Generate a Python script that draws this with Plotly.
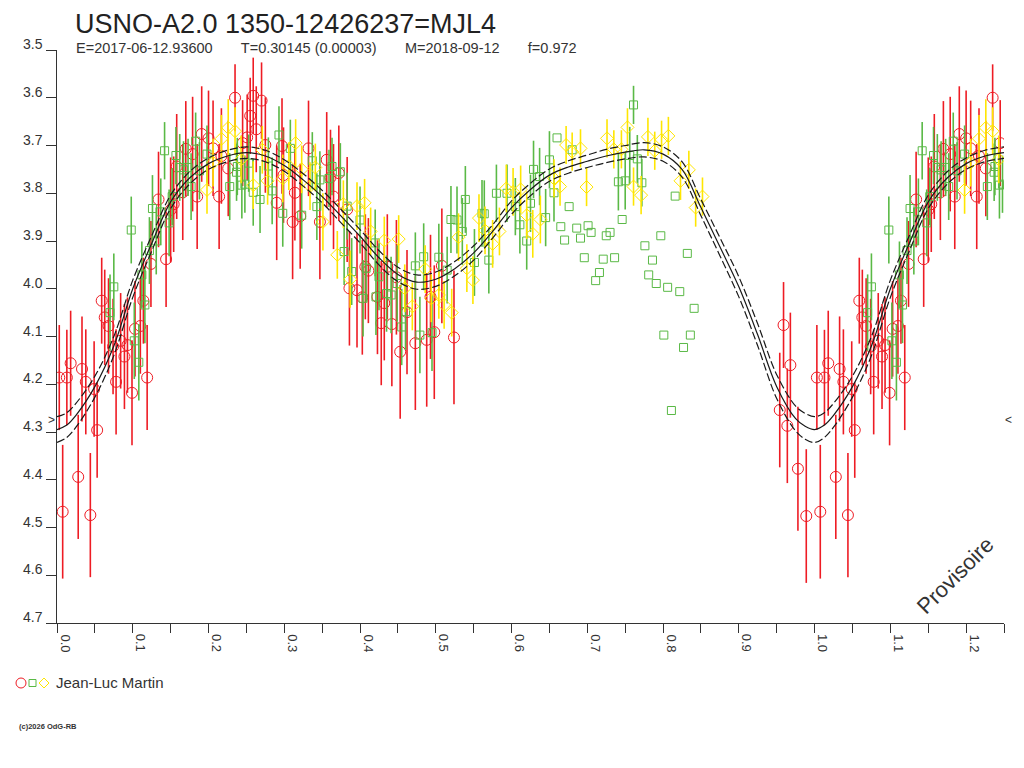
"""
Phase diagram of USNO-A2.0 1350-12426237 (MJL4): folded light curve with model.
"""
import plotly.graph_objects as go

# --- DATA (phase, magnitude, error) ---
RED_PHASE = [0.003, 0.0075, 0.013, 0.018, 0.028, 0.033, 0.038, 0.044, 0.049, 0.053,
             0.059, 0.063, 0.068, 0.074, 0.078, 0.084, 0.089, 0.093, 0.099, 0.103,
             0.110, 0.114, 0.119, 0.124, 0.134, 0.144, 0.150, 0.154, 0.158, 0.166,
             0.170, 0.179, 0.185, 0.191, 0.200, 0.206, 0.214, 0.217, 0.226, 0.235,
             0.245, 0.251, 0.255, 0.259, 0.263, 0.270, 0.275, 0.290, 0.297, 0.299,
             0.311, 0.314, 0.321, 0.332, 0.347, 0.356, 0.361, 0.365, 0.372, 0.383,
             0.386, 0.396, 0.403, 0.407, 0.411, 0.423, 0.428, 0.432, 0.436, 0.442,
             0.448, 0.453, 0.462, 0.473, 0.488, 0.493, 0.498, 0.508, 0.524,
             0.954, 0.959, 0.964, 0.968, 0.978, 0.989]
RED_MAG = [4.186, 4.467, 4.186, 4.156, 4.394, 4.168, 4.195, 4.474, 4.210, 4.296,
           4.025, 4.060, 4.078, 4.121, 4.195, 4.109, 4.142, 4.118, 4.218, 4.084,
           4.078, 4.025, 4.186, 3.948, 3.813, 3.938, 3.835, 3.823, 3.744, 3.798,
           3.707, 3.718, 3.807, 3.676, 3.685, 3.706, 3.807, 3.722, 3.748, 3.600,
           3.695, 3.683, 3.638, 3.596, 3.666, 3.606, 3.699, 3.820, 3.701, 3.762,
           3.860, 3.799, 3.848, 3.706, 3.860, 3.730, 3.767, 3.807, 3.758, 3.834,
           3.999, 4.003, 4.018, 3.954, 3.962, 4.017, 4.072, 4.030, 3.954, 4.074,
           3.976, 4.132, 4.049, 4.114, 4.107, 4.017, 4.091, 3.952, 4.102,
           4.254, 4.076, 4.287, 4.160, 4.377, 4.476]
RED_ERR = [0.11, 0.14, 0.10, 0.11, 0.13, 0.11, 0.11, 0.13, 0.10, 0.10,
           0.09, 0.10, 0.10, 0.10, 0.11, 0.10, 0.11, 0.10, 0.11, 0.10,
           0.10, 0.09, 0.11, 0.09, 0.10, 0.10, 0.11, 0.10, 0.11, 0.10,
           0.10, 0.12, 0.11, 0.10, 0.10, 0.10, 0.11, 0.10, 0.10, 0.07,
           0.09, 0.09, 0.08, 0.08, 0.09, 0.08, 0.10, 0.12, 0.10, 0.10,
           0.12, 0.10, 0.11, 0.10, 0.12, 0.10, 0.10, 0.11, 0.10, 0.11,
           0.12, 0.12, 0.12, 0.11, 0.11, 0.12, 0.13, 0.12, 0.11, 0.13,
           0.12, 0.14, 0.13, 0.14, 0.14, 0.13, 0.14, 0.12, 0.14,
           0.12, 0.09, 0.12, 0.11, 0.13, 0.14]

GREEN_PHASE = [0.070, 0.075, 0.098, 0.102, 0.108, 0.112, 0.116, 0.122, 0.126, 0.131,
               0.137, 0.142, 0.148, 0.152, 0.157, 0.162, 0.167, 0.173, 0.177, 0.183,
               0.188, 0.198, 0.228, 0.237, 0.238, 0.244, 0.248, 0.253, 0.259, 0.268,
               0.279, 0.284, 0.293, 0.298, 0.308, 0.323, 0.337, 0.343, 0.347, 0.359,
               0.363, 0.374, 0.379, 0.383, 0.389, 0.400, 0.404, 0.408, 0.420, 0.421,
               0.425, 0.435, 0.441, 0.449, 0.455, 0.460, 0.473, 0.479, 0.484, 0.495,
               0.504, 0.515, 0.520, 0.528, 0.535, 0.539, 0.551, 0.561, 0.564, 0.570,
               0.580, 0.594, 0.605, 0.611, 0.620, 0.625, 0.629, 0.637, 0.645, 0.650,
               0.656, 0.741, 0.750, 0.756, 0.761, 0.766, 0.772,
               0.660, 0.665, 0.670, 0.676, 0.680, 0.686, 0.691, 0.696, 0.701, 0.705,
               0.711, 0.716, 0.721, 0.725, 0.730, 0.736, 0.746, 0.776, 0.781, 0.786,
               0.791, 0.797, 0.801, 0.806, 0.811, 0.816, 0.822, 0.827, 0.832, 0.836,
               0.841]
GREEN_MAG = [4.050, 3.996, 3.877, 4.109, 4.154, 3.971, 4.034, 3.920, 3.832, 3.900,
             3.839, 3.711, 3.862, 3.807, 3.721, 3.746, 3.751, 3.746, 3.786, 3.691,
             3.753, 3.718, 3.786, 3.756, 3.744, 3.783, 3.781, 3.737, 3.798, 3.813,
             3.743, 3.795, 3.678, 3.842, 3.706, 3.846, 3.732, 3.828, 3.772, 3.769,
             3.744, 3.755, 3.922, 3.827, 3.964, 3.856, 4.020, 3.957, 3.904, 4.017,
             3.975, 4.010, 4.013, 3.989, 4.080, 4.048, 3.952, 4.097, 3.933, 4.092,
             3.934, 3.961, 3.855, 3.856, 3.880, 3.813, 3.945, 3.842, 3.843, 3.940,
             3.800, 3.800, 3.828, 3.866, 3.900, 3.821, 3.750, 3.765, 3.851, 3.730,
             3.799, 3.776, 3.774, 3.721, 3.615, 3.728, 3.778,
             3.684, 3.870, 3.898, 3.828, 3.709, 3.873, 3.894, 3.935, 3.868, 3.882,
             3.983, 3.966, 3.938, 3.889, 3.882, 3.935, 3.855, 3.910, 3.971, 3.940,
             3.989, 3.889, 4.097, 3.997, 4.255, 3.806, 4.006, 4.123, 3.926, 4.097,
             4.041]
GREEN_ERR = [0.08, 0.07, 0.07, 0.08, 0.08, 0.07, 0.08, 0.07, 0.07, 0.07,
             0.07, 0.06, 0.07, 0.06, 0.06, 0.07, 0.06, 0.06, 0.07, 0.06,
             0.06, 0.06, 0.07, 0.06, 0.06, 0.07, 0.06, 0.06, 0.07, 0.07,
             0.06, 0.07, 0.06, 0.07, 0.06, 0.07, 0.06, 0.07, 0.06, 0.06,
             0.06, 0.06, 0.07, 0.07, 0.07, 0.07, 0.08, 0.07, 0.07, 0.08,
             0.07, 0.08, 0.08, 0.08, 0.08, 0.08, 0.07, 0.08, 0.07, 0.08,
             0.07, 0.07, 0.07, 0.07, 0.07, 0.07, 0.07, 0.07, 0.07, 0.07,
             0.06, 0.06, 0.06, 0.06, 0.06, 0.06, 0.06, 0.06, 0.06, 0.06,
             0.06, 0.06, 0.06, 0.06, 0.04, 0.05, 0.05,
             0, 0, 0, 0, 0, 0, 0, 0, 0, 0,
             0, 0, 0, 0, 0, 0, 0, 0, 0, 0,
             0, 0, 0, 0, 0, 0, 0, 0, 0, 0,
             0]

YELLOW_PHASE = [0.198, 0.206, 0.217, 0.226, 0.235, 0.243, 0.259, 0.271, 0.278, 0.298,
                0.306, 0.315, 0.323, 0.334, 0.341, 0.351, 0.370, 0.378, 0.387, 0.396,
                0.406, 0.414, 0.432, 0.451, 0.459, 0.469, 0.486, 0.494, 0.504, 0.511,
                0.521, 0.530, 0.541, 0.549, 0.557, 0.565, 0.575, 0.584, 0.593, 0.602,
                0.612, 0.620, 0.628, 0.638, 0.656, 0.664, 0.672, 0.680, 0.691, 0.699,
                0.726, 0.735, 0.745, 0.753, 0.761, 0.771, 0.780, 0.789, 0.798, 0.807,
                0.823, 0.834, 0.843, 0.852]
YELLOW_MAG = [3.793, 3.736, 3.686, 3.663, 3.670, 3.729, 3.783, 3.709, 3.774, 3.769,
              3.743, 3.695, 3.750, 3.785, 3.746, 3.860, 3.929, 3.823, 3.980, 3.827,
              3.820, 3.880, 3.899, 3.896, 3.999, 4.037, 3.959, 4.020, 4.013, 4.034,
              4.050, 3.892, 3.957, 3.982, 3.852, 3.878, 3.906, 3.880, 3.790, 3.797,
              3.792, 3.846, 3.885, 3.855, 3.769, 3.786, 3.699, 3.713, 3.706, 3.787,
              3.685, 3.708, 3.708, 3.662, 3.786, 3.804, 3.682, 3.711, 3.688, 3.680,
              3.774, 3.751, 3.830, 3.807]
YELLOW_ERR = [0.05, 0.05, 0.05, 0.06, 0.05, 0.05, 0.05, 0.05, 0.05, 0.05,
              0.05, 0.05, 0.05, 0.05, 0.05, 0.06, 0.05, 0.05, 0.06, 0.05,
              0.05, 0.05, 0.05, 0.05, 0.05, 0.05, 0.05, 0.05, 0.05, 0.05,
              0.05, 0.05, 0.05, 0.05, 0.05, 0.05, 0.05, 0.05, 0.05, 0.05,
              0.05, 0.05, 0.05, 0.05, 0.04, 0.04, 0.04, 0.04, 0.04, 0.04,
              0.04, 0.04, 0.04, 0.04, 0.04, 0.04, 0.04, 0.04, 0.04, 0.04,
              0.04, 0.04, 0.04, 0.04]

# model light curve (center) and its half width
MODEL_PHASE = [0.000, 0.0125, 0.025, 0.050, 0.075, 0.100, 0.125, 0.150, 0.175, 0.200,
               0.225, 0.250, 0.275, 0.300, 0.325, 0.350, 0.375, 0.400, 0.425, 0.450,
               0.475, 0.500, 0.525, 0.550, 0.575, 0.600, 0.625, 0.650, 0.675, 0.700,
               0.725, 0.750, 0.775, 0.800, 0.825, 0.850, 0.875, 0.900, 0.925, 0.950,
               0.975, 0.9875]
MODEL_MAG = [4.295, 4.286, 4.265, 4.205, 4.120, 4.000, 3.905, 3.818, 3.768, 3.738,
             3.722, 3.715, 3.722, 3.742, 3.772, 3.807, 3.848, 3.890, 3.935, 3.970,
             3.986, 3.980, 3.958, 3.925, 3.880, 3.830, 3.792, 3.762, 3.745, 3.733,
             3.722, 3.714, 3.709, 3.718, 3.750, 3.830, 3.912, 3.996, 4.097, 4.205,
             4.272, 4.288]
MODEL_SIG = [0.027, 0.026, 0.025, 0.022, 0.020, 0.018, 0.016, 0.014, 0.013, 0.012,
             0.012, 0.012, 0.012, 0.012, 0.013, 0.013, 0.014, 0.014, 0.015, 0.015,
             0.015, 0.015, 0.015, 0.015, 0.014, 0.014, 0.013, 0.013, 0.013, 0.013,
             0.014, 0.014, 0.015, 0.015, 0.016, 0.017, 0.019, 0.021, 0.023, 0.025,
             0.026, 0.027]

Y_TICKS = ['3.5', '3.6', '3.7', '3.8', '3.9', '4.0', '4.1', '4.2', '4.3', '4.4', '4.5', '4.6', '4.7']
X_TICKS = ['0.0', '0.1', '0.2', '0.3', '0.4', '0.5', '0.6', '0.7', '0.8', '0.9', '1.0', '1.1', '1.2']

PHASE_MAX = 1.25
RED = '#ee1c24'
GREEN = '#5ab946'
YELLOW = '#ffe600'
INK = '#333333'
FONT = 'Liberation Sans, Arial, sans-serif'

# the page body adds an 8 px margin; positions below are screen pixels
OFF = 8
W, H = 1024 - OFF, 768 - OFF
L, R, T, B = 57, 1004, 50, 623


def fold(phase, *cols):
    """Repeat the cycle after phase 1 (0 -> 1, ...), up to PHASE_MAX."""
    out_p = list(phase)
    outs = [list(c) for c in cols]
    for i, p in enumerate(phase):
        if p + 1 <= PHASE_MAX:
            out_p.append(p + 1)
            for o, c in zip(outs, cols):
                o.append(c[i])
    return [out_p] + outs


def px(xp):
    return (xp - L) / (R - L)


def py(yp):
    return (B - yp) / (B - T)


fig = go.Figure()

series = [
    (RED_PHASE, RED_MAG, RED_ERR, RED, 'circle-open', 11),
    (GREEN_PHASE, GREEN_MAG, GREEN_ERR, GREEN, 'square-open', 8),
    (YELLOW_PHASE, YELLOW_MAG, YELLOW_ERR, YELLOW, 'diamond-open', 10),
]
for ph, mag, err, col, sym, size in series:
    x, y, e = fold(ph, mag, err)
    fig.add_trace(go.Scatter(
        x=x, y=y, mode='markers',
        marker=dict(symbol=sym, size=size, color=col, line=dict(color=col, width=1)),
        error_y=dict(type='data', array=e, visible=True, color=col, thickness=1.6, width=0),
        showlegend=False, hoverinfo='skip'
    ))

# model curve with its upper / lower envelopes
mx, my, ms = fold(MODEL_PHASE, MODEL_MAG, MODEL_SIG)
order = sorted(range(len(mx)), key=lambda i: mx[i])
mx = [mx[i] for i in order]
my = [my[i] for i in order]
ms = [ms[i] for i in order]
for sign, dash in [(-1, '8px,3px'), (1, '8px,3px'), (0, 'solid')]:
    fig.add_trace(go.Scatter(
        x=mx, y=[m + sign * s for m, s in zip(my, ms)], mode='lines',
        line=dict(color='#1a1a1a', width=1.2, dash=dash, shape='spline', smoothing=1.0),
        showlegend=False, hoverinfo='skip'
    ))

ann = []
# title box starts right at the top edge of the figure
ann.append(dict(text='USNO-A2.0 1350-12426237=MJL4', x=px(74), y=py(OFF + 0.5), xanchor='left',
                yanchor='top', borderpad=0, font=dict(size=27, color='#222222')))
gap = '\u00a0' * 7
ann.append(dict(text=f'E=2017-06-12.93600{gap}T=0.30145 (0.00003){gap}M=2018-09-12{gap}f=0.972',
                x=px(74), y=py(48), xanchor='left', yanchor='middle',
                font=dict(size=14.5, color=INK)))
# y tick labels (sit just above their tick)
for t in Y_TICKS:
    ann.append(dict(text=t, xref='paper', x=0, xshift=-12, xanchor='right',
                    yref='y', y=float(t), yanchor='middle', yshift=6,
                    font=dict(size=14, color=INK)))
# x tick labels, rotated
for t in X_TICKS:
    ann.append(dict(text=t, xref='x', x=float(t), xanchor='left', xshift=-1,
                    yref='paper', y=0, yanchor='top', yshift=-9, textangle=90,
                    font=dict(size=13, color=INK)))
# limit markers
ann.append(dict(text='>', xref='paper', x=px(51), yref='y', y=4.275, xanchor='center',
                yanchor='middle', font=dict(size=12, color=INK)))
ann.append(dict(text='<', xref='paper', x=px(1008), yref='y', y=4.275, xanchor='center',
                yanchor='middle', font=dict(size=12, color=INK)))
ann.append(dict(text='Provisoire', x=px(955), y=py(575), xanchor='center', yanchor='middle',
                textangle=-45, font=dict(size=22, color=INK)))
ann.append(dict(text='Jean-Luc Martin', x=px(54), y=py(683), xanchor='left', yanchor='middle',
                font=dict(size=15, color=INK)))
ann.append(dict(text='<b>(c)2026 OdG-RB</b>', x=px(17), y=py(726), xanchor='left',
                yanchor='middle', font=dict(size=7.5, color=INK)))
for a in ann:
    a.setdefault('xref', 'paper')
    a.setdefault('yref', 'paper')
    a['showarrow'] = False

# legend glyphs
yl = py(683)
shapes = [
    dict(type='circle', xref='paper', yref='paper', xsizemode='pixel', ysizemode='pixel',
         xanchor=px(21), yanchor=yl, x0=-5, x1=5, y0=-5, y1=5, line=dict(color=RED, width=1)),
    dict(type='rect', xref='paper', yref='paper', xsizemode='pixel', ysizemode='pixel',
         xanchor=px(32.5), yanchor=yl, x0=-3.5, x1=3.5, y0=-3.5, y1=3.5, line=dict(color=GREEN, width=1)),
    dict(type='path', xref='paper', yref='paper', xsizemode='pixel', ysizemode='pixel',
         xanchor=px(44), yanchor=yl, path='M -5 0 L 0 5 L 5 0 L 0 -5 Z', line=dict(color=YELLOW, width=1)),
]

fig.update_layout(
    width=W, height=H,
    margin=dict(l=L - OFF, r=W - (R - OFF), t=T - OFF, b=H - (B - OFF)),
    plot_bgcolor='white', paper_bgcolor='white',
    font=dict(family=FONT, color=INK),
    showlegend=False,
    annotations=ann,
    shapes=shapes,
)
fig.update_xaxes(
    range=[0, PHASE_MAX], showgrid=False, zeroline=False,
    showline=True, linecolor=INK, linewidth=1,
    ticks='outside', ticklen=9, tickcolor=INK, dtick=0.05, tick0=0,
    showticklabels=False
)
fig.update_yaxes(
    range=[4.7, 3.5], showgrid=False, zeroline=False,
    showline=True, linecolor=INK, linewidth=1,
    ticks='outside', ticklen=10, tickcolor=INK, dtick=0.1, tick0=3.5,
    showticklabels=False
)

fig.write_html("out.html")
